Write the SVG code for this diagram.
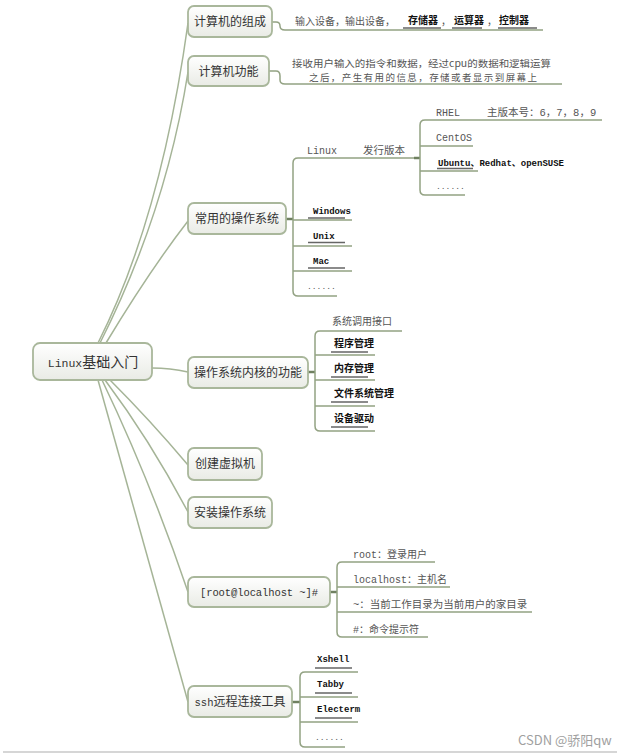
<svg xmlns="http://www.w3.org/2000/svg" width="630" height="753" viewBox="0 0 630 753">
<defs>
<linearGradient id="ng" x1="0" y1="0" x2="0" y2="1">
<stop offset="0" stop-color="#ffffff"/>
<stop offset="1" stop-color="#e9ebe5"/>
</linearGradient>
<style>
.node rect{fill:url(#ng);stroke:#a9b79b;stroke-width:1.8}
.nt{font-family:"Noto Sans CJK SC","Noto Sans",sans-serif;font-size:12px;fill:#333;text-anchor:middle}
.mono{font-family:"Liberation Mono","Noto Sans CJK SC",monospace}
.ct{font-family:"Liberation Mono","Noto Sans CJK SC",monospace;font-size:10px;fill:#555}
.cj{font-family:"Noto Sans CJK SC",sans-serif;font-size:10px;fill:#555}
.bt{font-family:"Liberation Mono","Noto Sans CJK SC",monospace;font-size:9px;font-weight:bold;fill:#111}
.bc{font-family:"Noto Sans CJK SC",sans-serif;font-size:10px;font-weight:bold;fill:#111}
.c{fill:none;stroke:#a5b497;stroke-width:1.5}
.b{fill:none;stroke:#93a283;stroke-width:1.5}
.j{fill:none;stroke:#6f8060;stroke-width:2.5}
.u{fill:none;stroke:#666;stroke-width:1.5}
</style>
</defs>
<rect width="630" height="753" fill="#ffffff"/>
<g id="connectors">
<path class="c" d="M98 343 Q161 218 188 23"/>
<path class="c" d="M100 343 Q166 212 188 72"/>
<path class="c" d="M106 343 Q150 270 188 221"/>
<path class="c" d="M152 368 Q170 368 188 372"/>
<path class="c" d="M110 380 Q150 420 188 465"/>
<path class="c" d="M105 380 Q150 440 188 512"/>
<path class="c" d="M102 380 Q150 480 188 592"/>
<path class="c" d="M98 380 Q140 530 188 702"/>
<path class="b" d="M271 22 H276 Q280 22 280 26 Q280 30 285 30 H543"/>
<path class="b" d="M269 71 H276 Q280 71 280 76 V80 Q280 84 285 84 H562"/>
<path class="j" d="M286 219 H293"/>
<path class="b" d="M417 158 H298 Q293 158 293 163 V291 Q293 296 298 296 H337"/>
<path class="b" d="M293 220 H352 M293 246 H352 M293 271 H352"/>
<path class="j" d="M414 158 H420"/>
<path class="b" d="M602 120 H425 Q420 120 420 125 V190 Q420 195 425 195 H465"/>
<path class="b" d="M420 146 H473 M420 171 H478"/>
<path class="j" d="M308 372 H315"/>
<path class="b" d="M402 331 H320 Q315 331 315 336 V426 Q315 431 320 431 H375"/>
<path class="b" d="M315 355 H375 M315 380 H375 M315 406 H375"/>
<path class="j" d="M330 592 H337"/>
<path class="b" d="M435 562 H342 Q337 562 337 567 V632 Q337 637 342 637 H428"/>
<path class="b" d="M337 587 H450 M337 612 H532"/>
<path class="j" d="M292 702 H300"/>
<path class="b" d="M358 672 H305 Q300 672 300 677 V742 Q300 747 305 747 H345"/>
<path class="b" d="M300 697 H358 M300 722 H358"/>
</g>
<g id="center">
<rect class="node" x="33" y="343" width="119" height="37" rx="7" fill="url(#ng)" stroke="#a9b79b" stroke-width="1.8"/>
<text x="93" y="367" class="nt" style="font-size:14px"><tspan class="mono" style="font-size:11.5px">Linux</tspan>基础入门</text>
</g>
<g id="n1" class="node">
<rect x="188" y="6" width="84" height="31" rx="6"/>
<text x="230" y="26" class="nt">计算机的组成</text>
<text x="295" y="25" class="cj">输入设备，输出设备，</text>
<text x="408" y="24" class="bc">存储器</text>
<text x="441" y="25" class="cj">，</text>
<text x="454" y="24" class="bc">运算器</text>
<text x="487" y="25" class="cj">，</text>
<text x="499" y="24" class="bc">控制器</text>
<path class="u" d="M403 28 H441 M452 28 H482 M498 28 H537"/>
</g>
<g id="n2" class="node">
<rect x="188" y="56" width="81" height="30" rx="6"/>
<text x="228.5" y="76" class="nt">计算机功能</text>
<text x="292" y="67" class="cj" style="font-size:9.5px" textLength="259" lengthAdjust="spacingAndGlyphs">接收用户输入的指令和数据，经过cpu的数据和逻辑运算</text>
<text x="309" y="81" class="cj" style="font-size:9.5px" textLength="228" lengthAdjust="spacing">之后，产生有用的信息，存储或者显示到屏幕上</text>
</g>
<g id="n3" class="node">
<rect x="188" y="203" width="98" height="31" rx="6"/>
<text x="237" y="223" class="nt">常用的操作系统</text>
<text x="307" y="154" class="ct">Linux</text>
<text x="363" y="154" class="cj" style="font-size:10.5px">发行版本</text>
<text x="436" y="116" class="ct">RHEL</text>
<text x="487" y="116" class="ct" style="font-size:10.5px">主版本号：6，7，8，9</text>
<text x="436" y="141" class="ct">CentOS</text>
<text x="438" y="166" class="bt">Ubuntu、Redhat、openSUSE</text>
<path class="u" d="M437 168.5 H473"/>
<text x="436" y="189" class="ct" style="font-size:8px">......</text>
<text x="313" y="214" class="bt">Windows</text>
<text x="313" y="239" class="bt">Unix</text>
<text x="313" y="264" class="bt">Mac</text>
<text x="307" y="289" class="ct" style="font-size:8px">......</text>
<path class="u" d="M308 218 H345 M308 242.5 H345 M308 268 H345"/>
</g>
<g id="n4" class="node">
<rect x="188" y="357" width="120" height="31" rx="6"/>
<text x="248" y="377" class="nt">操作系统内核的功能</text>
<text x="332" y="325" class="cj">系统调用接口</text>
<text x="334" y="347" class="bc">程序管理</text>
<text x="334" y="372" class="bc">内存管理</text>
<text x="334" y="397" class="bc">文件系统管理</text>
<text x="334" y="422" class="bc">设备驱动</text>
<path class="u" d="M331 352 H368 M331 377 H368 M331 402 H368 M331 427 H368"/>
</g>
<g id="n5" class="node">
<rect x="188" y="448" width="74" height="32" rx="6"/>
<text x="225" y="468" class="nt">创建虚拟机</text>
</g>
<g id="n6" class="node">
<rect x="188" y="497" width="84" height="31" rx="6"/>
<text x="230" y="517" class="nt">安装操作系统</text>
</g>
<g id="n7" class="node">
<rect x="188" y="577" width="142" height="30" rx="6"/>
<text x="200" y="596" class="nt mono" style="text-anchor:start;font-size:10.5px" textLength="118" lengthAdjust="spacing">[root@localhost ~]#</text>
<text x="353" y="558" class="ct">root：登录用户</text>
<text x="353" y="583" class="ct">localhost：主机名</text>
<text x="353" y="608" class="ct" style="font-size:10.5px">~：当前工作目录为当前用户的家目录</text>
<text x="353" y="633" class="ct">#：命令提示符</text>
</g>
<g id="n8" class="node">
<rect x="188" y="686" width="104" height="31" rx="6"/>
<text x="240" y="706" class="nt"><tspan class="mono" style="font-size:10.5px">ssh</tspan>远程连接工具</text>
<text x="317" y="662" class="bt">Xshell</text>
<text x="317" y="687" class="bt">Tabby</text>
<text x="317" y="712" class="bt">Electerm</text>
<text x="315" y="740" class="ct" style="font-size:8px">......</text>
<path class="u" d="M315 668 H352 M315 693 H352 M315 718 H352"/>
</g>
<g id="watermark">
<text x="518" y="745" style="font-family:'Noto Sans CJK SC','Noto Sans',sans-serif;font-size:13px;fill:#a0a0a0">CSDN @骄阳qw</text>
<path d="M3 752 H617" stroke="#c8c8c8" stroke-width="1.5"/>
</g>
</svg>
